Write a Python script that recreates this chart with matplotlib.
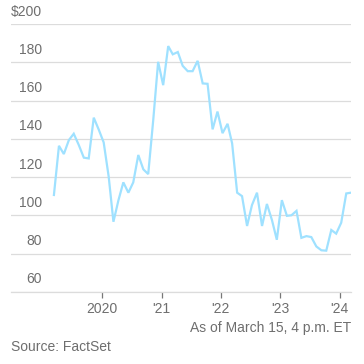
import pandas as pd
import matplotlib
matplotlib.use("Agg")
import matplotlib.pyplot as plt
import matplotlib.dates as mdates
from matplotlib.transforms import ScaledTranslation

# monthly closing prices, Mar 2019 - Mar 2024
prices = [
    110.7, 136.4, 132.1, 139.4, 142.7, 136.8, 130.2, 129.8, 151.1, 145.0,
    138.2, 120.2, 96.7, 108.0, 117.3, 111.9, 117.3, 131.6, 124.1, 121.6,
    150.0, 180.3, 168.1, 188.5, 184.2, 185.4, 178.2, 175.4, 175.4, 180.8,
    169.0, 168.8, 145.0, 154.3, 143.0, 147.9, 137.7, 111.9, 110.1, 94.5,
    105.4, 111.9, 94.5, 106.0, 97.6, 87.3, 108.0, 99.8, 100.1, 102.4,
    88.3, 89.2, 88.7, 83.8, 81.8, 81.6, 92.4, 90.5, 96.2, 111.5,
    111.9,
]
dates = pd.date_range("2019-03-01", periods=len(prices), freq="MS") + pd.Timedelta(days=10)

y_ticks = [60, 80, 100, 120, 140, 160, 180, 200]
y_labels = ["60", "80", "100", "120", "140", "160", "180", "$200"]
x_ticks = pd.to_datetime(["2020-01-01", "2021-01-01", "2022-01-01", "2023-01-01", "2024-01-01"])
x_labels = ["2020", "'21", "'22", "'23", "'24"]

LINE = "#9fe1ff"
TEXT = "#6e6e6e"
GRID = "#dcdcdc"

plt.rcParams["font.family"] = ["Liberation Sans", "DejaVu Sans"]

fig = plt.figure(figsize=(3.64, 3.64), dpi=100)
ax = fig.add_axes([0.0302, 0.1978, 0.934, 0.736])

ax.plot(dates, prices, color=LINE, linewidth=1.6, solid_joinstyle="miter", zorder=3)

ax.set_ylim(60, 200)
ax.set_xlim(pd.Timestamp("2018-06-20"), dates[-1])

ax.set_yticks(y_ticks)
ax.set_yticklabels(y_labels)
ax.grid(axis="y", color=GRID, linewidth=0.9)
ax.tick_params(axis="y", length=0, pad=-22.5, labelsize=10, labelcolor=TEXT)
shift = ScaledTranslation(0, 4 / 72, fig.dpi_scale_trans)
for lab in ax.get_yticklabels():
    lab.set_verticalalignment("bottom")
    lab.set_horizontalalignment("right")
    lab.set_transform(lab.get_transform() + shift)

ax.set_xticks(x_ticks)
ax.set_xticklabels(x_labels)
ax.tick_params(axis="x", length=4.5, width=0.9, color="#777777", pad=3,
               labelsize=10, labelcolor=TEXT)

for side in ["top", "right", "left"]:
    ax.spines[side].set_visible(False)
ax.spines["bottom"].set_color(GRID)
ax.spines["bottom"].set_linewidth(0.9)

fig.text(0.9643, 0.099, "As of March 15, 4 p.m. ET", ha="right", va="center",
         fontsize=10, color=TEXT)
fig.text(0.0302, 0.047, "Source: FactSet", ha="left", va="center",
         fontsize=10, color=TEXT)

fig.savefig("out.png", dpi=100, facecolor="white")
